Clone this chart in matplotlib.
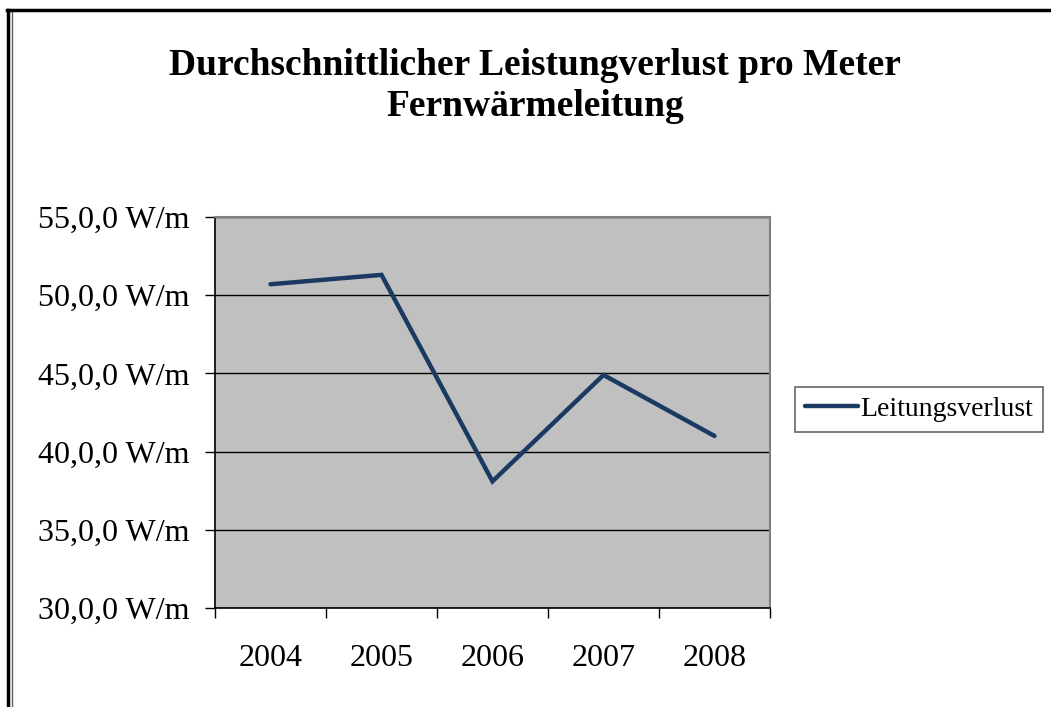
import numpy as np
import matplotlib.pyplot as plt
from matplotlib.lines import Line2D

# Data
years = ["2004", "2005", "2006", "2007", "2008"]
verlust = [50.7, 51.3, 38.1, 44.9, 41.0]
y_ticks = [30, 35, 40, 45, 50, 55]
y_labels = ["30,0,0 W/m", "35,0,0 W/m", "40,0,0 W/m", "45,0,0 W/m", "50,0,0 W/m", "55,0,0 W/m"]

plt.rcParams['font.family'] = ['Liberation Serif', 'DejaVu Serif']

fig = plt.figure(figsize=(10.51, 7.07), dpi=100)
ax = fig.add_axes([215/1051, 1 - 608/707, 555/1051, 391/707])
ax.set_facecolor('#C0C0C0')

x = np.arange(len(years))
line, = ax.plot(x, verlust, color='#1B3A63', lw=3.2, solid_capstyle='round',
                solid_joinstyle='miter', zorder=3)

ax.set_xlim(-0.5, len(years) - 0.5)
ax.set_ylim(30, 55)

# y axis
ax.set_yticks(y_ticks)
ax.set_yticklabels(y_labels, fontsize=23)
ax.yaxis.grid(True, color='black', lw=1)
ax.set_axisbelow(True)
ax.tick_params(axis='y', direction='out', length=7, width=1, pad=11, colors='black')

# x axis: tick marks at category borders, labels in the middle
ax.set_xticks(np.arange(-0.5, len(years)), labels=[''] * (len(years) + 1))
ax.set_xticks(x, labels=years, minor=True)
ax.tick_params(axis='x', which='major', direction='out', length=7, width=1)
ax.tick_params(axis='x', which='minor', length=0, pad=26, labelsize=23)

for s in ['top', 'right']:
    ax.spines[s].set_color('#808080')
    ax.spines[s].set_linewidth(1.5)
for s in ['left', 'bottom']:
    ax.spines[s].set_color('black')
    ax.spines[s].set_linewidth(1.2)

fig.text(535/1051, 1 - 86/707, "Durchschnittlicher Leistungverlust pro Meter\nFernwärmeleitung",
         ha='center', va='center', fontsize=27, fontweight='bold', linespacing=1.25)

# legend sitting against the right edge
handle = Line2D([], [], color='#1B3A63', lw=3.2, solid_capstyle='round')
leg = fig.legend([handle], ["Leitungsverlust"], loc='upper left',
                 bbox_to_anchor=(795/1051, 1 - 387/707), fontsize=20,
                 frameon=True, fancybox=False, handlelength=1.9, handletextpad=0.1,
                 borderpad=0.35, borderaxespad=0)
leg.get_frame().set_edgecolor('#404040')
leg.get_frame().set_linewidth(1.2)

# outer chart frame (double line left, thick top)
fig.add_artist(Line2D([8/1051, 8/1051], [0, 1 - 10/707], color='black', lw=2.5,
                      transform=fig.transFigure))
fig.add_artist(Line2D([12/1051, 12/1051], [0, 1 - 12/707], color='#606060', lw=1,
                      transform=fig.transFigure))
fig.add_artist(Line2D([7/1051, 1], [1 - 10/707, 1 - 10/707], color='black', lw=2.5,
                      transform=fig.transFigure))

fig.savefig("out.png", dpi=100)
